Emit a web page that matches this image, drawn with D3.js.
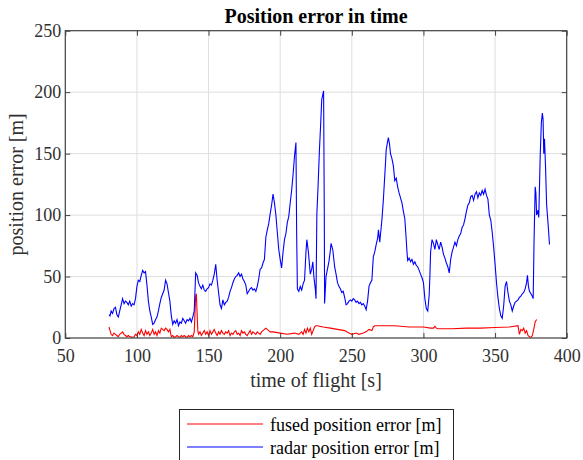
<!DOCTYPE html>
<html>
<head>
<meta charset="utf-8">
<script src="https://cdn.jsdelivr.net/npm/d3@7"></script>
<style>
  body { margin: 0; background: #fff; }
  text { font-family: "Liberation Serif", "Times New Roman", serif; }
  .grid line { stroke: #dedede; stroke-width: 1; }
  .axis path { display: none; }
  .axis line { stroke: #404040; }
  .axis text { fill: #303030; font-size: 18px; font-family: "Liberation Serif", serif; }
</style>
</head>
<body>
<script>
// radar position error [m]
const radarTime = [
  80.5, 81.2, 82, 83, 84, 85, 86, 87, 88, 89, 90, 91, 92, 93, 94, 95, 96, 97, 98, 99,
  100, 101, 102, 103, 104, 105, 106, 107, 108, 109, 110, 111, 112, 113, 114, 115, 116, 117, 118, 119,
  120, 121, 122, 123, 124, 125, 126, 127, 128, 129, 130, 131, 132, 133, 134, 135, 136, 137, 138, 139,
  140, 141, 142, 143, 144, 145, 146, 147, 148, 149, 150, 151, 152, 153, 154, 155, 156, 157, 158, 159,
  160, 161, 162, 163, 164, 165, 166, 167, 168, 169, 170, 171, 172, 173, 174, 175, 176, 177, 178, 179,
  180, 181, 182, 183, 184, 185, 186, 187, 188, 189, 190, 191, 192, 193, 194, 195, 196, 197, 198, 199,
  200, 201, 202, 203, 204, 205, 206, 207, 208, 209, 210, 211, 211.5, 212, 213, 214, 215, 216, 217, 218,
  218.6, 219.7, 221, 222, 222.8, 223.5, 224.5, 225, 225.6, 226.5, 227.4, 228.3, 229, 230.3, 230.8, 231, 232, 233, 234, 235,
  235.5, 236.7, 238, 239, 240, 241, 242, 243, 244, 245, 246, 247, 248, 249, 250, 251, 252, 253, 254, 255,
  256, 257, 258, 259, 260, 261, 262, 263, 264, 265, 266, 267, 268, 268.6, 269.5, 270, 271, 272, 272.6, 273.5,
  274, 275, 275.5, 276.3, 277, 278, 279, 280, 281, 282, 283, 284, 285, 286, 287, 288, 288.5, 289, 290, 291,
  292, 293, 294, 295, 296, 297, 298, 299, 300, 301, 302, 303, 304, 304.5, 305, 306, 307, 308, 309, 310,
  311, 312, 313, 314, 315, 316, 317, 318, 319, 320, 321, 322, 323, 324, 325, 326, 327, 328, 329, 330,
  331, 332, 333, 334, 335, 336, 337, 338, 339, 340, 341, 342, 343, 344, 345, 346, 347, 348, 349, 350,
  351, 352, 353, 354, 355, 356, 357, 358, 359, 360, 361, 362, 363, 364, 365, 366, 367, 368, 369, 370,
  371, 372, 372.6, 373.3, 374, 375, 376, 376.6, 377.2, 378, 378.5, 379, 380, 380.5, 381.5, 382.3, 383, 383.5, 384, 384.5,
  385.2, 386, 387, 388
]
const radarError = [
  19, 18, 22, 20, 24, 25, 19, 17, 22, 27, 32, 28, 30, 29, 27, 30, 26, 28, 27, 32,
  42, 47, 46, 51, 55, 53, 54, 43, 30, 22, 17, 11, 12, 15, 17, 22, 28, 33, 36, 39,
  47, 44, 37, 30, 18, 11, 14, 12, 15, 10, 13, 12, 16, 14, 12, 15, 14, 16, 13, 17,
  22, 53, 51, 45, 42, 40, 43, 39, 38, 40, 41, 44, 43, 47, 52, 60, 47, 37, 27, 24,
  31, 27, 29, 30, 33, 38, 41, 45, 48, 50, 51, 53, 50, 52, 48, 46, 43, 36, 38, 40,
  41, 39, 40, 38, 42, 48, 56, 57, 61, 64, 82, 88, 93, 101, 108, 117, 110, 100, 86, 72,
  64, 57, 70, 80, 85, 94, 99, 110, 120, 133, 148, 159, 85, 40, 38, 42, 39, 44, 47, 70,
  80, 70, 52, 56, 62, 50, 40, 32, 101, 125, 153, 175, 194, 201, 100, 28, 50, 56, 62, 71,
  77, 72, 58, 52, 45, 42, 40, 37, 38, 33, 27, 28, 30, 31, 30, 32, 31, 29, 30, 28,
  29, 27, 28, 26, 23, 30, 42, 45, 47, 66, 70, 76, 81, 88, 78, 84, 96, 112, 124, 142,
  153, 160, 163, 158, 150, 146, 140, 128, 130, 123, 118, 114, 110, 103, 97, 80, 70, 63, 65, 62,
  64, 60, 62, 59, 58, 55, 52, 49, 45, 32, 24, 22, 35, 50, 70, 80, 77, 72, 80, 76,
  72, 78, 74, 68, 65, 61, 58, 53, 64, 70, 74, 78, 75, 80, 83, 85, 90, 92, 97, 103,
  108, 110, 115, 116, 112, 117, 119, 114, 118, 116, 120, 117, 121, 116, 113, 100, 96, 86, 74, 60,
  45, 33, 24, 18, 16, 26, 42, 46, 37, 30, 27, 22, 26, 29, 30, 31, 33, 34, 36, 37,
  40, 45, 51, 42, 38, 36, 34, 32, 78, 123, 118, 100, 104, 98, 148, 175, 183, 178, 150, 162,
  140, 108, 93, 76
]

// fused position error [m]
const fusedTime = [
  80.5, 81, 82, 83, 84, 85, 86, 87, 88, 89, 90, 91, 92, 93, 94, 95, 96, 97, 98, 99,
  100, 101, 102, 103, 104, 105, 106, 107, 108, 109, 110, 111, 112, 113, 114, 115, 116, 117, 118, 119,
  120, 121, 122, 123, 124, 125, 126, 127, 128, 129, 130, 131, 132, 133, 134, 135, 136, 137, 138, 139,
  140, 141, 141.5, 142, 142.5, 143, 144, 145, 146, 147, 148, 149, 150, 151, 152, 153, 154, 155, 156, 157,
  158, 159, 160, 161, 162, 163, 164, 165, 166, 167, 168, 169, 170, 171, 172, 173, 174, 175, 176, 177,
  178, 179, 180, 181, 182, 183, 184, 185, 186, 187, 188, 189, 190, 191, 192, 193, 195, 200, 205, 210,
  213, 215, 216, 217, 218, 219, 220, 221, 222, 223, 224, 225, 226, 230, 235, 240, 245, 248, 250, 253,
  255, 258, 260, 262, 264, 265, 266, 268, 270, 280, 290, 300, 305, 307, 308, 309, 310, 320, 330, 340,
  350, 360, 366, 367, 368, 369, 370, 371, 372, 373, 374, 375, 376, 377, 378, 379
]
const fusedError = [
  9, 7, 3, 2, 4, 3, 2, 1, 3, 4, 5, 3, 2, 1, 2, 1, 1, 0.5, 1, 3,
  2, 5, 3, 7, 4, 2, 6, 3, 5, 2, 4, 7, 3, 5, 2, 6, 4, 8, 7, 6,
  8, 7, 5, 7, 1, 2, 0.5, 1, 2, 1, 0.5, 2, 1, 2, 1, 0.5, 2, 1, 2, 1,
  5, 34, 36, 20, 6, 3, 5, 2, 4, 6, 3, 5, 2, 6, 3, 5, 7, 4, 2, 5,
  3, 6, 4, 3, 5, 4, 6, 2, 4, 3, 5, 6, 3, 4, 2, 6, 4, 5, 3, 2,
  4, 6, 3, 5, 4, 3, 5, 4, 3, 5, 6, 7, 8, 7, 6, 5, 5, 4, 3, 4,
  3, 5, 3, 7, 4, 8, 5, 8, 3, 6, 9, 10, 10, 9, 8, 7, 6, 4, 3, 4,
  3, 4, 5, 7, 6, 9, 10, 10, 10, 10, 9, 9, 8, 8, 9.5, 8, 7.5, 7.5, 8, 8,
  8.5, 9, 10, 3, 7, 6, 8, 4, 6, 2, 1, 0.5, 2, 7, 13, 15
]

const xTicks = [50, 100, 150, 200, 250, 300, 350, 400]
const yTicks = [0, 50, 100, 150, 200, 250]
const legendLabels = ['fused position error [m]', 'radar position error [m]']
const colors = ['#ff0000', '#0000ff']

const W = 583, H = 460
const plotLeft = 65.3, plotRight = 566.7, plotTop = 30.7, plotBottom = 338

const svg = d3.select('body').append('svg')
  .attr('width', W)
  .attr('height', H)

const x = d3.scaleLinear().domain([50, 400]).range([plotLeft, plotRight])
const y = d3.scaleLinear().domain([0, 250]).range([plotBottom, plotTop])

// grid
svg.append('g').attr('class', 'grid')
  .selectAll('line')
  .data(xTicks.slice(1, -1))
  .enter().append('line')
  .attr('x1', d => x(d)).attr('x2', d => x(d))
  .attr('y1', plotTop).attr('y2', plotBottom)
svg.append('g').attr('class', 'grid')
  .selectAll('line')
  .data(yTicks.slice(1, -1))
  .enter().append('line')
  .attr('x1', plotLeft).attr('x2', plotRight)
  .attr('y1', d => y(d)).attr('y2', d => y(d))

// lines
const line = d3.line()
  .x(d => x(d[0]))
  .y(d => y(d[1]))

const fused = fusedTime.map((t, i) => [t, fusedError[i]])
const radar = radarTime.map((t, i) => [t, radarError[i]])

svg.append('path')
  .datum(fused)
  .attr('d', line)
  .attr('fill', 'none')
  .attr('stroke', colors[0])
  .attr('stroke-width', 1.1)

svg.append('path')
  .datum(radar)
  .attr('d', line)
  .attr('fill', 'none')
  .attr('stroke', colors[1])
  .attr('stroke-width', 1.1)

// axes, ticks pointing inward on all four sides
svg.append('g').attr('class', 'axis')
  .attr('transform', `translate(0,${plotBottom})`)
  .call(d3.axisBottom(x).tickValues(xTicks).tickSize(-5).tickPadding(11))
svg.append('g').attr('class', 'axis')
  .attr('transform', `translate(0,${plotTop})`)
  .call(d3.axisTop(x).tickValues(xTicks).tickSize(-5).tickFormat(''))
svg.append('g').attr('class', 'axis')
  .attr('transform', `translate(${plotLeft},0)`)
  .call(d3.axisLeft(y).tickValues(yTicks).tickSize(-5).tickPadding(4))
svg.append('g').attr('class', 'axis')
  .attr('transform', `translate(${plotRight},0)`)
  .call(d3.axisRight(y).tickValues(yTicks).tickSize(-5).tickFormat(''))

// box
svg.append('rect')
  .attr('x', plotLeft).attr('y', plotTop)
  .attr('width', plotRight - plotLeft).attr('height', plotBottom - plotTop)
  .attr('fill', 'none')
  .attr('stroke', '#404040')
  .attr('stroke-width', 1.2)

// title and axis labels
svg.append('text')
  .attr('x', (plotLeft + plotRight) / 2)
  .attr('y', 23)
  .attr('text-anchor', 'middle')
  .attr('font-weight', 'bold')
  .attr('font-size', 20)
  .attr('fill', '#000')
  .text('Position error in time')

svg.append('text')
  .attr('x', (plotLeft + plotRight) / 2)
  .attr('y', 387)
  .attr('text-anchor', 'middle')
  .attr('font-size', 20)
  .attr('fill', '#303030')
  .text('time of flight [s]')

svg.append('text')
  .attr('transform', `translate(23,${(plotTop + plotBottom) / 2}) rotate(-90)`)
  .attr('text-anchor', 'middle')
  .attr('font-size', 20)
  .attr('fill', '#303030')
  .text('position error [m]')

// legend
const legend = svg.append('g')
legend.append('rect')
  .attr('x', 179.5).attr('y', 409.5)
  .attr('width', 274).attr('height', 60)
  .attr('fill', '#fff')
  .attr('stroke', '#262626')
  .attr('stroke-width', 1)

const items = legend.selectAll('g.item')
  .data(legendLabels)
  .enter().append('g')
  .attr('class', 'item')
  .attr('transform', (d, i) => `translate(0,${424 + i * 23})`)

items.append('line')
  .attr('x1', 187).attr('x2', 263)
  .attr('stroke', (d, i) => colors[i])
  .attr('stroke-width', 1)

items.append('text')
  .attr('x', 270)
  .attr('y', 7)
  .attr('font-size', 18)
  .attr('fill', '#000')
  .text(d => d)
</script>
</body>
</html>
